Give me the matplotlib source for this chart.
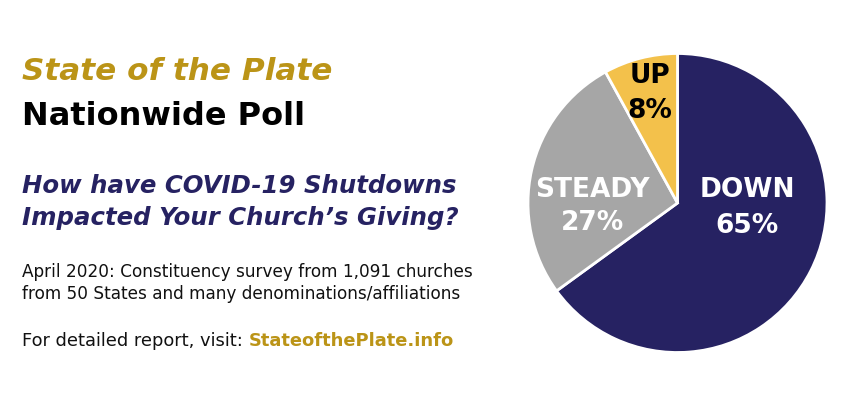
import matplotlib
matplotlib.use("Agg")
import matplotlib.pyplot as plt

# poll results
labels = ["DOWN", "STEADY", "UP"]
shares = [65, 27, 8]
colors = ["#262262", "#A6A6A6", "#F3C14B"]
label_colors = ["white", "white", "black"]

title1 = "State of the Plate"
title2 = "Nationwide Poll"
question = ["How have COVID-19 Shutdowns", "Impacted Your Church\u2019s Giving?"]
note = ["April 2020: Constituency survey from 1,091 churches",
        "from 50 States and many denominations/affiliations"]
link_pre = "For detailed report, visit: "
link = "StateofthePlate.info"

gold = "#BB9417"
navy = "#262262"
FONT = "DejaVu Sans"

W, H = 859, 418
fig = plt.figure(figsize=(W / 100, H / 100), dpi=100)
fig.patch.set_facecolor("white")

def px(x, y):
    return x / W, 1 - y / H

# left text block
fig.text(*px(22, 80), title1, color=gold, fontsize=22.4, fontweight="bold",
         style="italic", family=FONT, va="baseline")
fig.text(*px(22, 125), title2, color="black", fontsize=23, fontweight="bold",
         family=FONT, va="baseline")
for i, line in enumerate(question):
    fig.text(*px(22, 193 + i * 32), line, color=navy, fontsize=17.6,
             fontweight="bold", style="italic", family=FONT, va="baseline")
for i, line in enumerate(note):
    fig.text(*px(22, 277 + i * 22), line, color="#111111", fontsize=12.2,
             family=FONT, va="baseline")
t = fig.text(*px(22, 346), link_pre, color="#111111", fontsize=12.9,
             family=FONT, va="baseline")
fig.canvas.draw()
bb = t.get_window_extent()
fig.text(bb.x1 / W, 1 - 346 / H, link, color=gold, fontsize=12.9,
         fontweight="bold", family=FONT, va="baseline")

# pie
ax = fig.add_axes([528 / W, 1 - 352.5 / H, 299 / W, 299 / H])
ax.pie(shares, colors=colors, startangle=90, counterclock=False,
       wedgeprops=dict(edgecolor="white", linewidth=2))
ax.set_xlim(-1, 1)
ax.set_ylim(-1, 1)
ax.set_aspect("equal")

# label anchors (x, name baseline, pct baseline) in axes data units
label_pos = [(0.467, 0.04, -0.2), (-0.567, 0.04, -0.18), (-0.187, 0.8, 0.567)]
for name, v, c, (x, y1, y2) in zip(labels, shares, label_colors, label_pos):
    ax.text(x, y1, name, color=c, fontsize=19, fontweight="bold",
            family=FONT, ha="center", va="baseline")
    ax.text(x, y2, f"{v}%", color=c, fontsize=19, fontweight="bold",
            family=FONT, ha="center", va="baseline")

fig.savefig("out.png", dpi=100, facecolor="white")
